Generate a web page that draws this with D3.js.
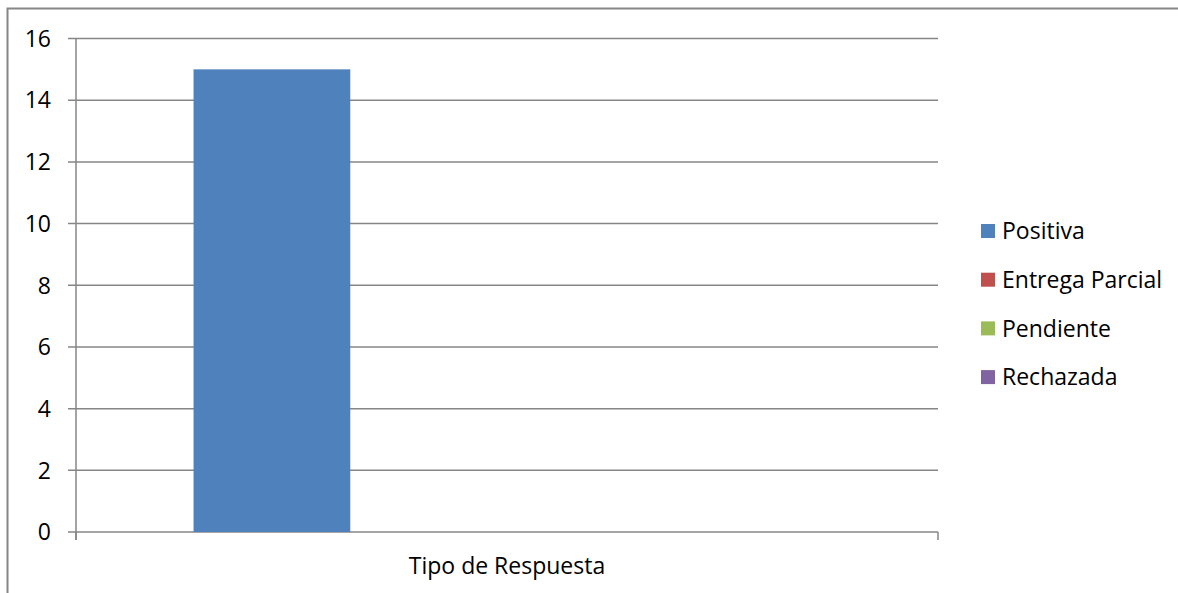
<!DOCTYPE html>
<html>
<head>
<meta charset="utf-8">
<script src="https://cdn.jsdelivr.net/npm/d3@7"></script>
<style>
  body { margin: 0; background: #fff; }
  svg text { font-family: "Open Sans", Lato, sans-serif; fill: #000; }
</style>
</head>
<body>
<script>
// chart data
var categories = ["Tipo de Respuesta"];
var seriesNames = ["Positiva", "Entrega Parcial", "Pendiente", "Rechazada"];
var seriesValues = [15, 0, 0, 0];
var seriesColors = ["#4f81bd", "#c0504d", "#9bbb59", "#8064a2"];
var yTicks = [0, 2, 4, 6, 8, 10, 12, 14, 16];

var W = 1178, H = 593;
var margin = {top: 38.5, left: 76};
var width = 938 - margin.left,
    height = 532 - margin.top;
var fontSize = "23px";

var svg = d3.select("body").append("svg")
    .attr("width", W)
    .attr("height", H);

// outer chart border (runs off the page on right and bottom)
svg.append("rect")
    .attr("x", 7.5).attr("y", 8.5)
    .attr("width", W + 20).attr("height", H + 20)
    .attr("fill", "none")
    .attr("stroke", "#868686")
    .attr("stroke-width", 2);

var g = svg.append("g")
    .attr("transform", "translate(" + margin.left + "," + margin.top + ")");

var x0 = d3.scaleBand().domain(categories).range([0, width]).padding(0);
// excel gap width 150% -> 4 bars + 1.5 bar widths gap
var x1 = d3.scaleBand().domain(seriesNames)
    .range([0, x0.bandwidth()])
    .paddingOuter(0.75).paddingInner(0);
var y = d3.scaleLinear().domain([0, 16]).range([height, 0]);

// gridlines + y labels
g.selectAll(".grid")
    .data(yTicks)
    .enter().append("line")
    .attr("x1", -8).attr("x2", width)
    .attr("y1", function(d) { return y(d); })
    .attr("y2", function(d) { return y(d); })
    .attr("stroke", "#868686")
    .attr("stroke-width", 1.5);

g.selectAll(".ylab")
    .data(yTicks)
    .enter().append("text")
    .attr("x", -25)
    .attr("y", function(d) { return y(d); })
    .attr("dy", "0.36em")
    .attr("text-anchor", "end")
    .style("font-size", fontSize)
    .text(function(d) { return d; });

// bars
var cat = g.selectAll(".cat")
    .data(categories)
    .enter().append("g")
    .attr("transform", function(d) { return "translate(" + x0(d) + ",0)"; });

cat.selectAll("rect")
    .data(seriesNames.map(function(s, i) { return {name: s, value: seriesValues[i], color: seriesColors[i]}; }))
    .enter().append("rect")
    .attr("x", function(d) { return x1(d.name); })
    .attr("width", x1.bandwidth())
    .attr("y", function(d) { return y(d.value); })
    .attr("height", function(d) { return height - y(d.value); })
    .attr("fill", function(d) { return d.color; });

// y axis line
g.append("line")
    .attr("x1", 0).attr("x2", 0)
    .attr("y1", 0).attr("y2", height + 8)
    .attr("stroke", "#868686").attr("stroke-width", 1.5);

// x axis ticks at category edges
g.selectAll(".xtick")
    .data([0, width])
    .enter().append("line")
    .attr("x1", function(d) { return d; }).attr("x2", function(d) { return d; })
    .attr("y1", height).attr("y2", height + 8)
    .attr("stroke", "#868686").attr("stroke-width", 1.5);

g.selectAll(".xlab")
    .data(categories)
    .enter().append("text")
    .attr("x", function(d) { return x0(d) + x0.bandwidth() / 2; })
    .attr("y", height + 34)
    .attr("dy", "0.36em")
    .attr("text-anchor", "middle")
    .style("font-size", fontSize)
    .text(function(d) { return d; });

// legend
var legend = svg.selectAll(".legend")
    .data(seriesNames)
    .enter().append("g")
    .attr("transform", function(d, i) { return "translate(981," + (231 + i * 48.7) + ")"; });

legend.append("rect")
    .attr("x", 0).attr("y", -7)
    .attr("width", 14).attr("height", 14)
    .attr("fill", function(d, i) { return seriesColors[i]; });

legend.append("text")
    .attr("x", 21)
    .attr("dy", "0.36em")
    .style("font-size", fontSize)
    .text(function(d) { return d; });
</script>
</body>
</html>
